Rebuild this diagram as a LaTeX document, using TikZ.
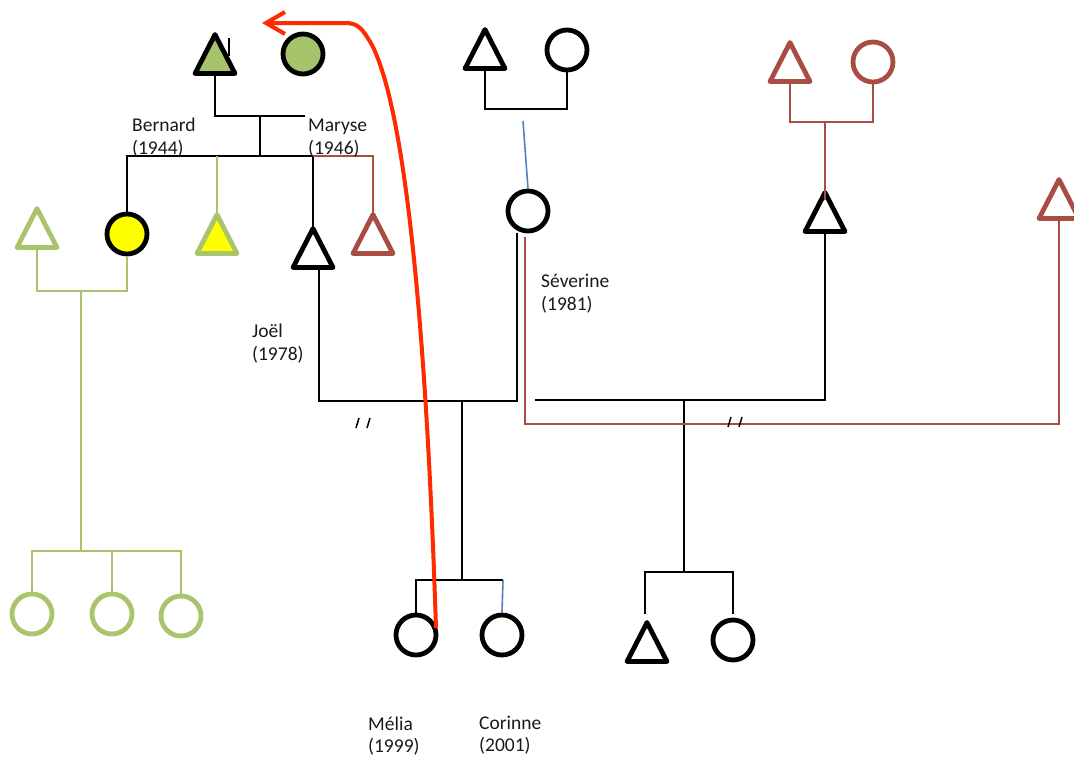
\documentclass[tikz,border=0pt]{standalone}
\usepackage{fontspec}
\setmainfont{Carlito}
\usetikzlibrary{arrows.meta}
\definecolor{pgreen}{HTML}{A9C46D}
\definecolor{pgfill}{HTML}{A5C36A}
\definecolor{pbrown}{HTML}{A84C44}
\definecolor{pblue}{HTML}{4F81BD}
\definecolor{pred}{HTML}{FF2A00}
\definecolor{pyellow}{HTML}{FFFF00}
\tikzset{
  tribox/.style={rectangle, inner sep=0pt, minimum width=39.5pt, minimum height=38.5pt},
  shapeline/.style={line width=4.8pt, line join=round},
  cir/.style={circle, inner sep=0pt, minimum size=40pt, line width=4.8pt},
  blk/.style={draw=black, line width=1.6pt},
  grn/.style={draw=pgreen, line width=2.2pt},
  brn/.style={draw=pbrown, line width=2pt},
  blu/.style={draw=pblue, line width=1.6pt},
  lbl/.style={anchor=base west, inner sep=0pt, font=\fontsize{19.5}{23}\selectfont, text=black!90},
  redarrow/.style={draw=pred, line width=4pt, -{Straight Barb[length=19pt,width=22pt]}},
  slash/.style={draw=black, line width=1.5pt}
}
\newcommand\ptri[4]{%
  \node[tribox] (#1) at (#2) {};
  \draw[shapeline, draw=#3, fill=#4] (#1.north) -- (#1.south east) -- (#1.south west) -- cycle;}
\begin{document}
\begin{tikzpicture}[x=1pt,y=-1pt]
\useasboundingbox (0,0) rectangle (1074,758);
\clip (0,0) rectangle (1074,758);

% ---------- shapes ----------
% generation 1
\ptri{tgf1}{215,54}{black}{pgfill}
\node[cir, draw=black, fill=pgfill] (cgm1) at (303,54) {};
\ptri{tgf2}{485,49}{black}{none}
\node[cir, draw=black] (cgm2) at (567,50) {};
\ptri{tgf3}{790,62}{pbrown}{none}
\node[cir, draw=pbrown] (cgm3) at (873,62) {};
% generation 2
\ptri{tu1}{37,228}{pgreen}{none}
\node[cir, draw=black, fill=pyellow] (caunt) at (127,234) {};
\ptri{tu2}{217,234}{pgreen}{pyellow}
\ptri{tjoel}{313,248}{black}{none}
\ptri{tu3}{373,234}{pbrown}{none}
\node[cir, draw=black] (csev) at (528,211) {};
\ptri{tr}{825,212}{black}{none}
\ptri{trr}{1059,199}{pbrown}{none}
% generation 3
\node[cir, draw=pgreen] (cg1) at (32,614) {};
\node[cir, draw=pgreen] (cg2) at (112,614) {};
\node[cir, draw=pgreen] (cg3) at (181,616) {};
\node[cir, draw=black] (cmelia) at (416,635) {};
\node[cir, draw=black] (ccor) at (502,635) {};
\ptri{th}{647,642}{black}{none}
\node[cir, draw=black] (ch) at (733,640) {};

% ---------- connectors ----------
% stray mark beside the grandfather
\coordinate (st1) at (229,38); \coordinate (st2) at (229,56);
\draw[blk] (st1) -- (st2);
% Bernard & Maryse
\coordinate (j1r) at (305,116);
\draw[blk] (tgf1.south) |- (j1r);
\coordinate (j2) at (260,116); \coordinate (j2b) at (260,156);
\draw[blk] (j2) -- (j2b);
\coordinate (s1l) at (127,156); \coordinate (s1r) at (313,156);
\draw[blk] (caunt.north) -- (s1l) -- (s1r) -- (tjoel.north);
\draw[grn] (tu2.north |- s1l) -- (tu2.north);
\draw[brn] (s1r) -| (tu3.north);
% aunt's family (green)
\coordinate (g1) at (81,291); \coordinate (g2) at (81,551);
\draw[grn] (tu1.south) |- (caunt.south |- g1) -- (caunt.south);
\draw[grn] (g1) -- (g2);
\draw[grn] (cg1.north) |- (cg3.north |- g2) -- (cg3.north);
\draw[grn] (cg2.north |- g2) -- (cg2.north);
% Séverine's parents
\coordinate (m2r) at (567,109);
\draw[blk] (tgf2.south) |- (m2r) -- (cgm2.south);
\coordinate (b1) at (523,121);
\draw[blu] (b1) -- (csev.north);
% Joël & Séverine
\coordinate (u1l) at (319,401); \coordinate (u1r) at (517,401);
\draw[blk] (tjoel.south -| u1l) -- (u1l) -- (u1r) -- (csev.south -| u1r);
\coordinate (d1) at (462,401); \coordinate (d1b) at (462,580);
\draw[blk] (d1) -- (d1b);
\coordinate (k2) at (503,580);
\draw[blk] (cmelia.north) |- (k2);
\draw[blu] (k2) -- (ccor.north);
% Séverine & new partner
\coordinate (u2l) at (535,400);
\draw[blk] (u2l) -| (tr.south);
\coordinate (d2) at (684,400); \coordinate (d2b) at (684,572);
\draw[blk] (d2) -- (d2b);
\coordinate (h1) at (645,572); \coordinate (h1b) at (645,614);
\coordinate (h2) at (733,572); \coordinate (h2b) at (733,614);
\draw[blk] (h1b) -- (h1) -- (h2) -- (h2b);
% partner's parents (brown)
\coordinate (r1) at (825,122); \coordinate (r1b) at (825,200);
\draw[brn] (tgf3.south) |- (r1) -| (cgm3.south);
\draw[brn] (r1) -- (r1b);
% Séverine & far right (brown)
\coordinate (v1) at (525,237); \coordinate (v2) at (525,424); \coordinate (v3) at (1059,424);
\draw[brn] (v1) -- (v2) -- (v3) -- (trr.south);
% separation marks
\coordinate (sa1) at (356,428); \coordinate (sa2) at (359,418);
\coordinate (sb1) at (367,428); \coordinate (sb2) at (370,418);
\draw[slash] (sa1) -- (sa2); \draw[slash] (sb1) -- (sb2);
\coordinate (sc1) at (728,427); \coordinate (sc2) at (731,417);
\coordinate (sd1) at (739,427); \coordinate (sd2) at (742,417);
\draw[slash] (sc1) -- (sc2); \draw[slash] (sd1) -- (sd2);

% ---------- labels ----------
\node[lbl] (nBernard) at (132,131) {Bernard};
\node[lbl] (yBernard) at (132,154) {(1944)};
\node[lbl] (nMaryse) at (308,131) {Maryse};
\node[lbl] (yMaryse) at (308,154) {(1946)};
\node[lbl] (nJoel) at (252,337) {Joël};
\node[lbl] (yJoel) at (252,360) {(1978)};
\node[lbl] (nSev) at (541,287) {Séverine};
\node[lbl] (ySev) at (541,310) {(1981)};
\node[lbl] (nMelia) at (368,730) {Mélia};
\node[lbl] (yMelia) at (368,752) {(1999)};
\node[lbl] (nCor) at (479,729) {Corinne};
\node[lbl] (yCor) at (479,751) {(2001)};

% ---------- red arrow ----------
\coordinate (ra) at (436,628);
\coordinate (rb) at (372,45);
\coordinate (rc) at (345,23);
\coordinate (rd) at (262,23);
\draw[redarrow] (ra) .. controls (428,380) and (410,120) .. (rb)
  .. controls (362,28) and (358,23) .. (rc) -- (rd);
\end{tikzpicture}
\end{document}
